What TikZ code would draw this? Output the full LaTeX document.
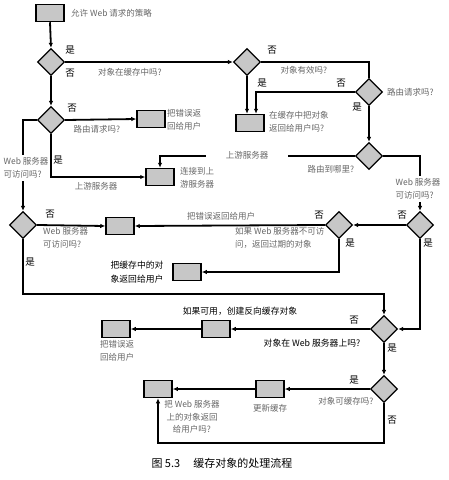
\documentclass[tikz,border=0pt]{standalone}
\usepackage{fontspec}
\setmainfont{Noto Sans CJK SC}
\usetikzlibrary{shapes.geometric}
\usetikzlibrary{arrows.meta}

\begin{document}
\begin{tikzpicture}[x=1pt,y=-1pt,
  box/.style={rectangle,draw=black,line width=1.5pt,fill=black!22,minimum width=28pt,minimum height=17pt,inner sep=0pt},
  dia/.style={diamond,draw=black,line width=1.3pt,fill=black!22,minimum width=27pt,minimum height=27pt,inner sep=0pt},
  flow/.style={line width=1.8pt,-{Latex[length=5pt,width=4.5pt]}},
  wire/.style={line width=1.8pt},
  lab/.style={font=\fontsize{8.5}{12.5}\selectfont,text=black!60,align=left,inner sep=1pt},
  blab/.style={font=\fontsize{8.8}{13.5}\selectfont,text=black,align=left,inner sep=1pt},
  yn/.style={font=\fontsize{9.5}{10}\selectfont,text=black,inner sep=0pt}]
\useasboundingbox (0,0) rectangle (448,480);

\node[box] (start) at (50,13) {};
\node[lab,anchor=west] (startlab) at (70,13) {允许 Web 请求的策略};

\node[dia] (d1) at (51,62) {};
\node[dia] (d2) at (247,62) {};
\node[dia] (d3) at (369,92) {};
\node[box] (b1) at (250,123) {};
\node[dia] (d10) at (51,120) {};
\node[box] (b2) at (151,119) {};
\node[dia] (d4) at (369,156) {};
\node[box] (b3) at (160,177) {};
\node[dia] (d7) at (23,225) {};
\node[box] (b5) at (120,226) {};
\node[dia] (d6) at (339,225) {};
\node[dia] (d5) at (420,225) {};
\node[box] (b6) at (187,272) {};
\node[dia] (d8) at (384,329) {};
\node[box] (b7) at (216,329) {};
\node[box] (b8) at (116,329) {};
\node[dia] (d9) at (384,389) {};
\node[box] (b9) at (270,389) {};
\node[box] (b10) at (158,389) {};

\draw[flow] (start.south) -- (d1.north);
\draw[flow] (d1.east) -- (d2.west);
\draw[flow] (d1.south) -- (d10.north);
\draw[wire] (d2.east) -| (d3.north);
\draw[flow] (d2.south) -- (d2.south |- b1.north);
\draw[flow] (d3.west) -| ([xshift=6pt]b1.north);
\draw[flow] (d3.south) -- (d4.north);
\draw[flow] (d10.east) -- (b2.west);
\draw[flow] (d10.south) |- (b3.west);
\draw[flow] (d10.west) -| (d7.north);
\draw[flow] (d4.west) -| (b3.north);
\draw[flow] (d4.east) -| (d5.north);
\draw[flow] (d5.west) -- (d6.east);
\draw[flow] (d6.west) -- (b5.east);
\draw[flow] (d7.east) -- (b5.west);
\draw[flow] (d6.south) |- (b6.east);
\draw[flow] (d7.south) |- ([yshift=21pt]d8.north) -- (d8.north);
\draw[flow] (d5.south) |- (d8.east);
\draw[flow] (d8.west) -- (b7.east);
\draw[flow] (b7.west) -- (b8.east);
\draw[flow] (d8.south) -- (d9.north);
\draw[flow] (d9.west) -- (b9.east);
\draw[flow] (b9.west) -- (b10.east);
\draw[flow] (d9.south) -- ++(0,40) -| (b10.south);

\node[lab,fill=white,inner xsep=20pt] (up2) at (247,155) {上游服务器};
\node[lab,fill=white,inner ysep=3pt] (web1) at (26,168) {Web 服务器\\可访问吗?};
\node[lab,fill=white,inner ysep=3pt] (web2) at (418,189) {Web 服务器\\可访问吗?};

\node[yn] (y1) at (70,50) {是};
\node[yn] (n1) at (70,73) {否};
\node[lab] (q1) at (130,72) {对象在缓存中吗?};
\node[yn] (n2) at (272,50) {否};
\node[lab] (q2) at (304,70) {对象有效吗?};
\node[yn] (y3) at (262,83) {是};
\node[yn] (n3) at (341,83) {否};
\node[yn] (y3b) at (357,107) {是};
\node[lab,anchor=west] (q3) at (386,92) {路由请求吗?};
\node[lab,anchor=west] (b1lab) at (268,122) {在缓存中把对象\\返回给用户吗?};
\node[yn] (n10) at (72,108) {否};
\node[lab] (q10) at (97,129) {路由请求吗?};
\node[yn] (y10) at (58,160) {是};
\node[lab,anchor=west] (b2lab) at (166,120) {把错误返\\回给用户};
\node[lab] (up1) at (96,186) {上游服务器};
\node[lab,anchor=west] (b3lab) at (179,178) {连接到上\\游服务器};
\node[lab] (q4) at (331,169) {路由到哪里?};
\node[yn] (n5) at (402,215) {否};
\node[yn] (y5) at (428,243) {是};
\node[yn] (n6) at (319,215) {否};
\node[yn] (y6) at (350,243) {是};
\node[lab] (errlab) at (221,216) {把错误返回给用户};
\node[lab,anchor=west] (oldlab) at (234,238) {如果 Web 服务器不可访\\问，返回过期的对象};
\node[yn] (n7) at (50,214) {否};
\node[lab,anchor=west] (q7) at (42,238) {Web 服务器\\可访问吗?};
\node[yn] (y7) at (30,262) {是};
\node[blab] (b6lab) at (137,272) {把缓存中的对\\象返回给用户};
\node[blab] (revlab) at (240,311) {如果可用，创建反向缓存对象};
\node[yn] (n8) at (354,320) {否};
\node[blab] (q8) at (312,343) {对象在 Web 服务器上吗?};
\node[yn] (y8) at (392,348) {是};
\node[lab,align=center] (b8lab) at (117,351) {把错误返\\回给用户};
\node[yn] (y9) at (354,380) {是};
\node[lab] (q9) at (346,401) {对象可缓存吗?};
\node[yn] (n9) at (392,420) {否};
\node[lab] (b9lab) at (270,408) {更新缓存};
\node[lab,align=center] (b10lab) at (192,417) {把 Web 服务器\\上的对象返回\\给用户吗?};

\node[font=\fontsize{11}{13}\selectfont] (cap) at (222,463) {图 5.3\hspace{1.2em}缓存对象的处理流程};
\end{tikzpicture}
\end{document}
